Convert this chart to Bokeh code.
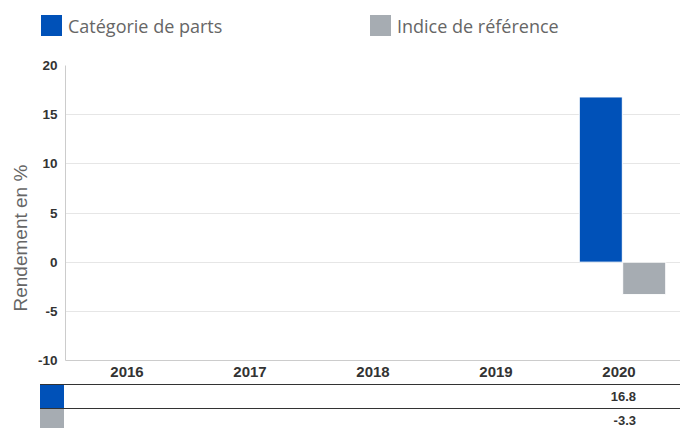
from bokeh.plotting import figure
from bokeh.models import (ColumnDataSource, FactorRange, Range1d, FixedTicker,
                          Title, PrintfTickFormatter, Div)
from bokeh.transform import dodge
from bokeh.layouts import column
from bokeh.embed import file_html
from bokeh.resources import INLINE

# ---- data ----
years = ["2016", "2017", "2018", "2019", "2020"]
fund = [float("nan"), float("nan"), float("nan"), float("nan"), 16.8]
bench = [float("nan"), float("nan"), float("nan"), float("nan"), -3.3]
series_names = ["Catégorie de parts", "Indice de référence"]
y_ticks = [-10, -5, 0, 5, 10, 15, 20]
y_title = "Rendement en %"

BLUE = "#0051b8"
GREY = "#a6acb2"
TXT = "#333333"
colors = [BLUE, GREY]
Y0, Y1 = -10, 20

W = 680
LEG_H, TAB_H = 57, 44
FL = 65                       # frame left (px)
step = (W - FL) / len(years)

# ---- legend (HTML strip above the chart) ----
leg_x = [41, 370]
parts = []
for k, name in enumerate(series_names):
    x = leg_x[k]
    parts.append(f'<div style="position:absolute;left:{x}px;top:15px;width:21px;height:21px;'
                 f'background:{colors[k]};"></div>')
    parts.append(f'<div style="position:absolute;left:{x + 27}px;top:16px;line-height:21px;'
                 f'font-family:\'Open Sans\';font-size:18px;color:#666666;white-space:nowrap;">'
                 f'{name}</div>')
div_leg = Div(text=f'<div style="position:relative;width:{W}px;height:{LEG_H}px;">'
                   + "".join(parts) + "</div>",
              width=W, height=LEG_H, margin=0)

# ---- chart ----
src = ColumnDataSource(dict(year=years, fund=fund, bench=bench))
p = figure(width=W, height=327, x_range=FactorRange(factors=years, range_padding=0),
           y_range=Range1d(Y0, Y1), output_backend="svg", toolbar_location=None,
           min_border_left=FL, min_border_right=0, min_border_top=8,
           min_border_bottom=24)
p.outline_line_color = None

p.vbar(x=dodge("year", -0.148, range=p.x_range), top="fund", bottom=0, width=0.35,
       source=src, fill_color=BLUE, line_color="white", line_width=1)
p.vbar(x=dodge("year", 0.205, range=p.x_range), top="bench", bottom=0, width=0.35,
       source=src, fill_color=GREY, line_color="white", line_width=1)

p.xgrid.grid_line_color = None
p.ygrid.grid_line_color = "#e6e6e6"
p.yaxis.ticker = FixedTicker(ticks=y_ticks)
p.yaxis.formatter = PrintfTickFormatter(format="%d")

for ax, size, standoff in ((p.yaxis[0], "13.5px", 8), (p.xaxis[0], "15px", 6)):
    ax.major_tick_line_color = None
    ax.minor_tick_line_color = None
    ax.major_tick_out = 0
    ax.minor_tick_out = 0
    ax.major_label_text_font = "Liberation Sans"
    ax.major_label_text_font_style = "bold"
    ax.major_label_text_color = TXT
    ax.major_label_text_font_size = size
    ax.major_label_standoff = standoff
    ax.axis_line_color = "#cccccc"

p.add_layout(Title(text=y_title, align="left", offset=49, standoff=8,
                   text_font="Liberation Sans", text_font_size="19px",
                   text_font_style="normal", text_color="#666666"), "left")

# ---- value table (HTML strip below the chart) ----
def fmt(v):
    return "" if v != v else f"{v:.1f}"

row_top = [0, 24]
row_h = [24, 20]
cells = []
for k, vals in enumerate([fund, bench]):
    t = row_top[k]
    cells.append(f'<div style="position:absolute;left:40px;top:{t}px;width:{W - 40}px;'
                 f'height:0;border-top:1px solid #333333;"></div>')
    cells.append(f'<div style="position:absolute;left:40px;top:{t + 1}px;width:24px;'
                 f'height:{row_h[k] - 1 if k == 0 else row_h[k]}px;background:{colors[k]};"></div>')
    for i, v in enumerate(vals):
        s = fmt(v)
        if not s:
            continue
        right = W - (FL + (i + 0.5) * step + 17)
        cells.append(f'<div style="position:absolute;right:{right:.0f}px;top:{t + 1}px;'
                     f'line-height:24px;font-family:\'Liberation Sans\';font-weight:bold;'
                     f'font-size:13px;color:{TXT};white-space:nowrap;">{s}</div>')
div_tab = Div(text=f'<div style="position:relative;width:{W}px;height:{TAB_H}px;overflow:hidden;">'
                   + "".join(cells) + "</div>",
              width=W, height=TAB_H, margin=0)

layout = column(div_leg, p, div_tab, spacing=0)
open("out.html", "w").write(file_html(layout, INLINE))
